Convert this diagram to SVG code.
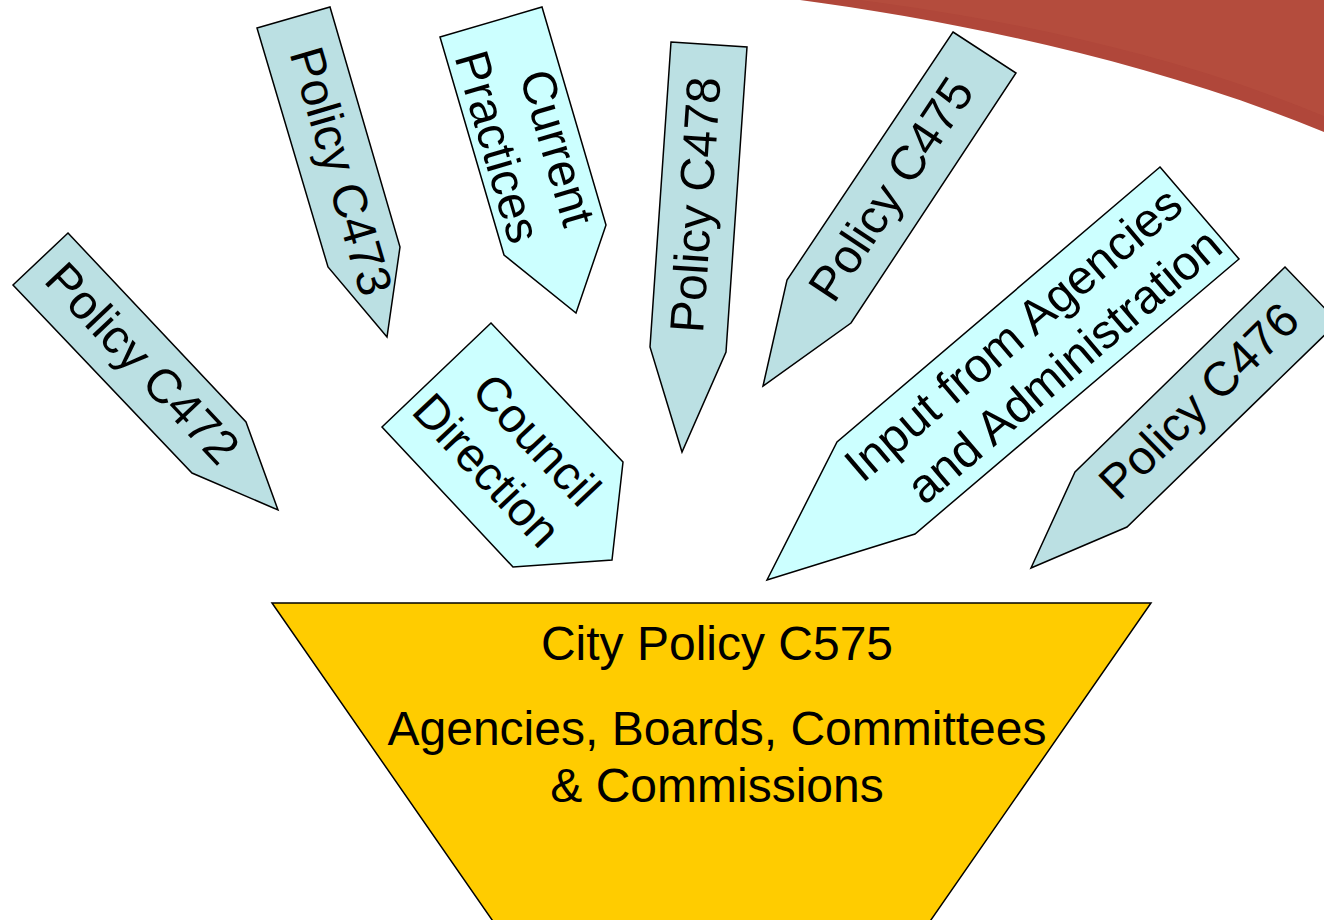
<svg xmlns="http://www.w3.org/2000/svg" width="1324" height="920" viewBox="0 0 1324 920">
<style>
.sh{stroke:#000;stroke-width:1.5;stroke-linejoin:miter}
.pol{fill:#bbe0e3}
.cy{fill:#ccffff}
.gold{fill:#ffcc00}
.t{font-family:"Liberation Sans",Arial,Helvetica,sans-serif;font-size:48px;fill:#000;text-anchor:middle}
</style>
<rect width="1324" height="920" fill="#fff"/>
<g id="backdrop">
<path d="M800,0 C950,20 1150,60 1324,132 L1324,0 Z" fill="#b0473a"/>
<path d="M860,0 C1000,18 1170,52 1324,116 L1324,0 Z" fill="#b8503f" opacity="0.6"/>
</g>
<g id="connectors"/>
<g id="policy-c472">
<polygon class="sh pol" points="68,233 246,422 278,510 192,473 13,285"/>
<text class="t" transform="translate(130.6,374.5) rotate(46.56)">Policy C472</text>
</g>
<g id="policy-c473">
<polygon class="sh pol" points="257,28 330,7 400,247 387,337 328,267"/>
<text class="t" transform="translate(325.5,175.8) rotate(73.6)">Policy C473</text>
</g>
<g id="current-practices">
<polygon class="sh cy" points="440,37 542,7 606,225 576,313 504,255"/>
<text class="t" transform="translate(541.8,152.3) rotate(73.64)">Current</text>
<text class="t" transform="translate(482.1,151.4) rotate(73.64)">Practices</text>
</g>
<g id="policy-c478">
<polygon class="sh pol" points="671,42 747,47 726,352 682,452 650,347"/>
<text class="t" transform="translate(711.9,206) rotate(-86.06)">Policy C478</text>
</g>
<g id="policy-c475">
<polygon class="sh pol" points="953,32 1016,73 851,323 763,386 787,280"/>
<text class="t" transform="translate(904.6,198.1) rotate(-56.4)">Policy C475</text>
</g>
<g id="council-direction">
<polygon class="sh cy" points="491,323 623,462 612,560 513,567 382,427"/>
<text class="t" transform="translate(524.6,451.1) rotate(46.7)">Council</text>
<text class="t" transform="translate(474.9,481.5) rotate(46.7)">Direction</text>
</g>
<g id="input-agencies">
<polygon class="sh cy" points="1160,167 1239,259 915,534 767,580 837,442"/>
<text class="t" transform="translate(1023.9,346.6) rotate(-40.4)">Input from Agencies</text>
<text class="t" transform="translate(1074.6,378.3) rotate(-40.4)">and Administration</text>
</g>
<g id="policy-c476">
<polygon class="sh pol" points="1285,267 1338,322 1127,527 1031,568 1075,472"/>
<text class="t" transform="translate(1210.3,412.6) rotate(-44.25)">Policy C476</text>
</g>
<g id="city-policy-c575">
<polygon class="sh gold" points="272,603 1151,603 917,940 506,940"/>
<text class="t" x="717" y="660">City Policy C575</text>
<text class="t" x="717" y="745">Agencies, Boards, Committees</text>
<text class="t" x="717" y="802">&amp; Commissions</text>
</g>
</svg>
